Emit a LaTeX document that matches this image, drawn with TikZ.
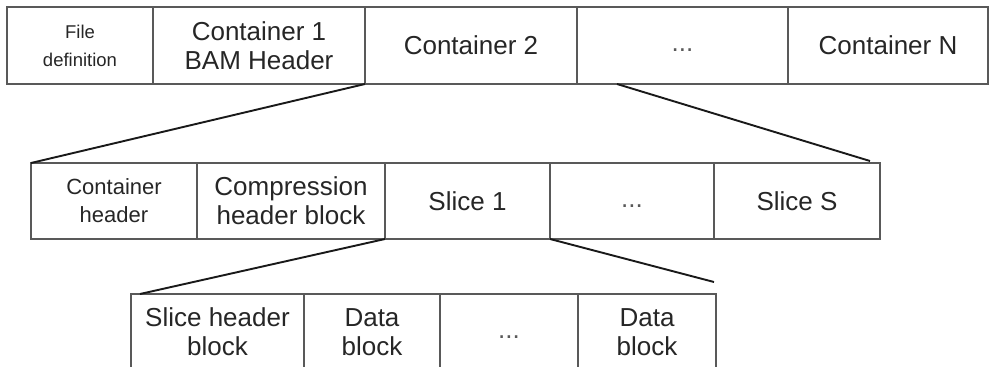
\documentclass[tikz,border=0pt]{standalone}
\usepackage{fontspec}
\setmainfont{Liberation Sans}
\begin{document}
\begin{tikzpicture}[x=1pt,y=-1pt,
  cell/.style={draw=black!65, line width=1.3pt, rectangle, inner sep=0pt, outer sep=0pt,
    align=center, text=black!85, font=\fontsize{26}{29}\selectfont},
  small/.style={font=\fontsize{18.5}{28}\selectfont},
  mid/.style={font=\fontsize{22}{28}\selectfont},
  dots/.style={text=black!65},
  link/.style={draw=black!90, line width=1.9pt}]
\useasboundingbox (0,0) rectangle (989,367);
\clip (0,0) rectangle (989,367);
% row 1
\node[cell, small, minimum width=146pt, minimum height=77pt] (fd) at (80,45.5) {File\\definition};
\node[cell, minimum width=212pt, minimum height=77pt] (c1) at (259,45.5) {Container 1\\BAM Header};
\node[cell, minimum width=212pt, minimum height=77pt] (c2) at (471,45.5) {Container 2};
\node[cell, dots, minimum width=211pt, minimum height=77pt] (cd) at (682.5,45.5) {\vphantom{Cg}...};
\node[cell, minimum width=200pt, minimum height=77pt] (cn) at (888,45.5) {Container N};
% row 2
\node[cell, mid, minimum width=166pt, minimum height=76pt] (ch) at (114,201) {Container\\header};
\node[cell, minimum width=188pt, minimum height=76pt] (cmp) at (291,201) {Compression\\header block};
\node[cell, minimum width=165pt, minimum height=76pt] (s1) at (467.5,201) {Slice 1};
\node[cell, dots, minimum width=164pt, minimum height=76pt] (sd) at (632,201) {\vphantom{Cg}...};
\node[cell, minimum width=166pt, minimum height=76pt] (ss) at (797,201) {Slice S};
% row 3
\node[cell, minimum width=173pt, minimum height=76pt] (shb) at (217.5,332) {Slice header\\block};
\node[cell, minimum width=136pt, minimum height=76pt] (db1) at (372,332) {Data\\block};
\node[cell, dots, minimum width=138pt, minimum height=76pt] (bd) at (509,332) {\vphantom{Cg}...};
\node[cell, minimum width=138pt, minimum height=76pt] (db2) at (647,332) {Data\\block};
% connector free ends
\coordinate (a1) at (617,84);
\coordinate (a2) at (870,161);
\coordinate (b1) at (140,294);
\coordinate (b2) at (714,282);
% connectors
\draw[link] (c1.south east) -- (ch.north west);
\draw[link] (a1) -- (a2);
\draw[link] (cmp.south east) -- (b1);
\draw[link] (s1.south east) -- (b2);
\end{tikzpicture}
\end{document}
